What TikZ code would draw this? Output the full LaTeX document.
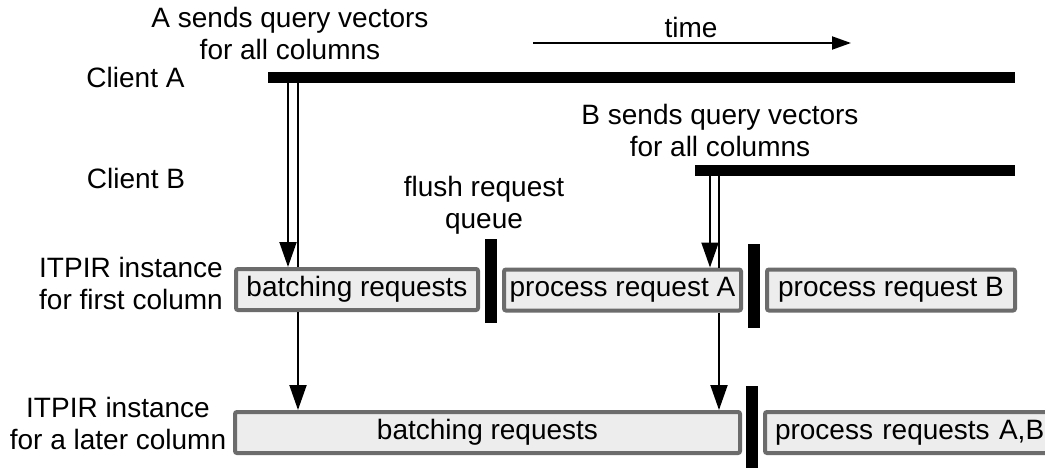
\documentclass[tikz,border=0pt]{standalone}
\usepackage{fontspec}
\setmainfont{Liberation Sans}
\usetikzlibrary{arrows.meta}
\definecolor{boxgray}{RGB}{108,108,108}
\definecolor{boxfill}{RGB}{237,237,237}
\begin{document}
\begin{tikzpicture}[x=1pt,y=-1pt,
  every node/.style={font=\fontsize{28}{32}\selectfont},
  lbl/.style={inner sep=0pt, align=center},
  procbox/.style={draw=boxgray, fill=boxfill, line width=4pt, rounded corners=2pt,
    inner sep=0pt, minimum height=41pt},
  flushbar/.style={fill=black, draw=none, inner sep=0pt, minimum width=12pt},
  clientbar/.style={fill=black, draw=none, inner sep=0pt, minimum height=11pt},
  arr/.style={line width=2pt, -{Triangle[width=17pt,length=25pt]}},
  plain/.style={line width=2pt},
  tarr/.style={line width=2pt, -{Triangle[width=13pt,length=19pt]}}]
\clip (0,0) rectangle (1045,468);
\fill[white] (0,0) rectangle (1045,468);

% x positions of connectors
\coordinate (xA1) at (288,0);
\coordinate (xA2) at (298,0);
\coordinate (xB1) at (710,0);
\coordinate (xB2) at (719,0);

% labels
\node[lbl] (asend) at (290,33) {A sends query vectors\\for all columns};
\node[lbl] (bsend) at (720,130) {B sends query vectors\\for all columns};
\node[lbl] (flush) at (484,205) {flush request\\queue};
\node[lbl] (cla) at (135.5,77) {Client A};
\node[lbl] (clb) at (136,178) {Client B};
\node[lbl] (it1) at (131,283) {ITPIR instance\\for first column};
\node[lbl] (it2) at (118,423) {ITPIR instance\\for a later column};

% time arrow
\coordinate (t0) at (533,43);
\coordinate (t1) at (851,43);
\draw[tarr] (t0) -- (t1);
\node[lbl] (time) at (691,27) {time};

% process boxes
\node[procbox, minimum width=242pt] (b1) at (357,289.5) {batching requests};
\node[procbox, minimum width=237pt] (b2) at (622.5,290) {process request A};
\node[procbox, minimum width=248pt] (b3) at (891,290) {process request B};
\node[procbox, minimum width=505pt] (l1) at (487.5,432.5) {batching requests};
\node[procbox, minimum width=295pt, text width=275pt, align=left] (l2) at (912.5,432.5) {process requests A,B};

% connectors
\node[clientbar, minimum width=747pt] (ca) at (641.5,77.5) {};
\node[clientbar, minimum width=320pt] (cb) at (855,170.5) {};
\draw[arr] (ca.south -| xA1) -- (b1.north -| xA1);
\draw[plain] (ca.south -| xA2) -- (b1.north -| xA2);
\draw[arr] (b1.south -| xA2) -- (l1.north -| xA2);
\draw[arr] (cb.south -| xB1) -- (b2.north -| xB1);
\draw[plain] (cb.south -| xB2) -- (b2.north -| xB2);
\draw[arr] (b2.south -| xB2) -- (l1.north -| xB2);

% flush bars
\node[flushbar, minimum height=84pt] (f1) at (490.5,281) {};
\node[flushbar, minimum height=84pt] (f2) at (754,286) {};
\node[flushbar, minimum height=90pt] (f3) at (752,431) {};
\end{tikzpicture}
\end{document}
